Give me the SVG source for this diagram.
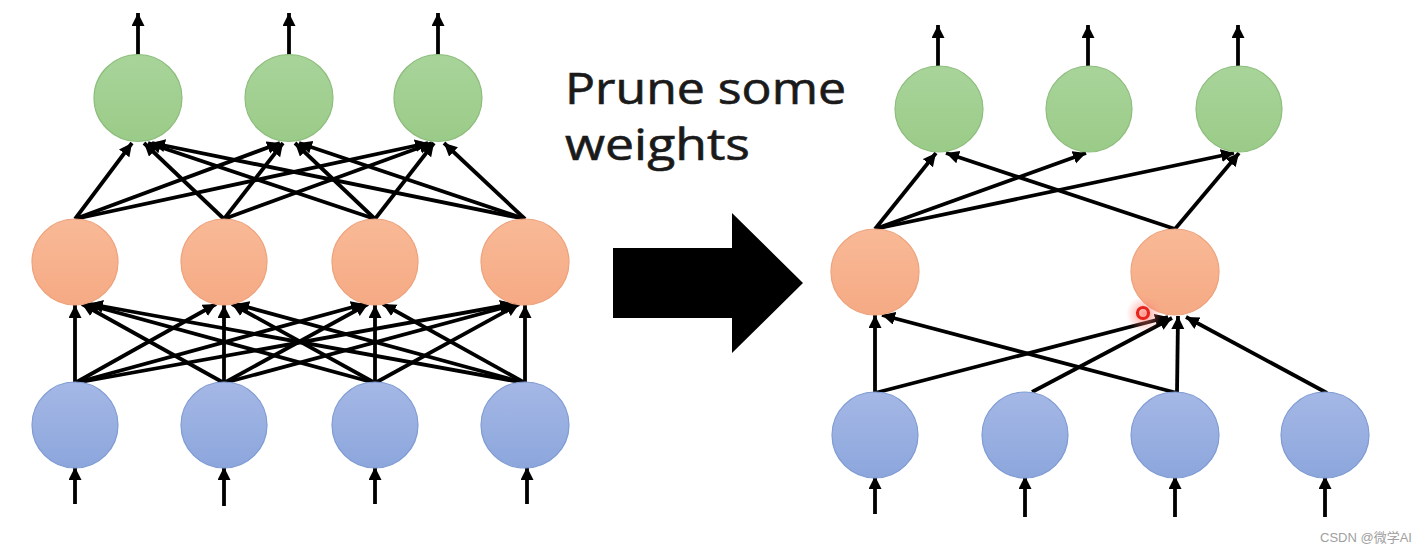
<svg xmlns="http://www.w3.org/2000/svg" width="1425" height="554" viewBox="0 0 1425 554">
<style>
.e{stroke:#000;stroke-width:3.8;fill:none;marker-end:url(#ah)}
.g{fill:url(#gg);stroke:#8dbd7c;stroke-width:1.2}
.o{fill:url(#go);stroke:#eda27c;stroke-width:1.2}
.b{fill:url(#gb);stroke:#7f9bd3;stroke-width:1.2}
.t{font-family:"Open Sans","Noto Sans","Liberation Sans",sans-serif;font-size:43px;fill:#1a1a1a;stroke:#1a1a1a;stroke-width:0.6}
</style>
<defs>
<marker id="ah" markerUnits="userSpaceOnUse" markerWidth="16" markerHeight="14" refX="13" refY="6.5" orient="auto"><path d="M0,0 L13,6.5 L0,13 Z" fill="#000"/></marker>
<linearGradient id="gg" x1="0" y1="0" x2="0" y2="1"><stop offset="0" stop-color="#a8d49a"/><stop offset="1" stop-color="#9bcb88"/></linearGradient>
<linearGradient id="go" x1="0" y1="0" x2="0" y2="1"><stop offset="0" stop-color="#f9b996"/><stop offset="1" stop-color="#f5aa84"/></linearGradient>
<linearGradient id="gb" x1="0" y1="0" x2="0" y2="1"><stop offset="0" stop-color="#a5b8e6"/><stop offset="1" stop-color="#8ca6dc"/></linearGradient>
<radialGradient id="glow"><stop offset="0" stop-color="#ff6a5a" stop-opacity="0.7"/><stop offset="1" stop-color="#ff8a80" stop-opacity="0"/></radialGradient>
</defs>
<rect width="1425" height="554" fill="#fff"/>

<g id="connectors">
<!-- left: outputs -->
<line class="e" x1="138" y1="55" x2="138" y2="13"/>
<line class="e" x1="289" y1="55" x2="289" y2="13"/>
<line class="e" x1="438" y1="55" x2="438" y2="13"/>
<!-- left: orange -> green -->
<line class="e" x1="75" y1="219" x2="132" y2="143"/>
<line class="e" x1="75" y1="219" x2="280" y2="143"/>
<line class="e" x1="75" y1="219" x2="428" y2="143"/>
<line class="e" x1="224" y1="219" x2="144" y2="143"/>
<line class="e" x1="224" y1="219" x2="283" y2="143"/>
<line class="e" x1="224" y1="219" x2="432" y2="143"/>
<line class="e" x1="375" y1="219" x2="148" y2="143"/>
<line class="e" x1="375" y1="219" x2="295" y2="143"/>
<line class="e" x1="375" y1="219" x2="434" y2="143"/>
<line class="e" x1="525" y1="219" x2="152" y2="143"/>
<line class="e" x1="525" y1="219" x2="299" y2="143"/>
<line class="e" x1="525" y1="219" x2="444" y2="143"/>
<!-- left: blue -> orange -->
<line class="e" x1="75" y1="383" x2="75" y2="305"/>
<line class="e" x1="75" y1="383" x2="216" y2="304"/>
<line class="e" x1="75" y1="383" x2="364" y2="304"/>
<line class="e" x1="75" y1="383" x2="513" y2="304"/>
<line class="e" x1="224" y1="383" x2="82" y2="304"/>
<line class="e" x1="224" y1="383" x2="224" y2="305"/>
<line class="e" x1="224" y1="383" x2="368" y2="304"/>
<line class="e" x1="224" y1="383" x2="517" y2="304"/>
<line class="e" x1="375" y1="383" x2="86" y2="304"/>
<line class="e" x1="375" y1="383" x2="232" y2="304"/>
<line class="e" x1="375" y1="383" x2="375" y2="305"/>
<line class="e" x1="375" y1="383" x2="519" y2="304"/>
<line class="e" x1="525" y1="383" x2="90" y2="304"/>
<line class="e" x1="525" y1="383" x2="236" y2="304"/>
<line class="e" x1="525" y1="383" x2="383" y2="304"/>
<line class="e" x1="525" y1="383" x2="525" y2="305"/>
<!-- left: inputs -->
<line class="e" x1="75" y1="504" x2="75" y2="467"/>
<line class="e" x1="224" y1="506" x2="224" y2="467"/>
<line class="e" x1="375" y1="504" x2="375" y2="467"/>
<line class="e" x1="527" y1="504" x2="527" y2="467"/>

<!-- right: outputs -->
<line class="e" x1="938" y1="66" x2="938" y2="25"/>
<line class="e" x1="1088" y1="66" x2="1088" y2="25"/>
<line class="e" x1="1238" y1="66" x2="1238" y2="25"/>
<!-- right: orange -> green -->
<line class="e" x1="875" y1="229" x2="936" y2="153"/>
<line class="e" x1="875" y1="229" x2="1086" y2="153"/>
<line class="e" x1="875" y1="229" x2="1234" y2="153"/>
<line class="e" x1="1175" y1="229" x2="946" y2="153"/>
<line class="e" x1="1175" y1="229" x2="1239" y2="153"/>
<!-- right: blue -> orange -->
<line class="e" x1="875" y1="393" x2="875" y2="315"/>
<line class="e" x1="875" y1="393" x2="1168" y2="317"/>
<line class="e" x1="1032" y1="392" x2="1172" y2="318"/>
<line class="e" x1="1177" y1="393" x2="882" y2="315"/>
<line class="e" x1="1177" y1="393" x2="1178" y2="316"/>
<line class="e" x1="1327" y1="393" x2="1186" y2="317"/>
<!-- right: inputs -->
<line class="e" x1="875" y1="514" x2="875" y2="476"/>
<line class="e" x1="1025" y1="517" x2="1025" y2="476"/>
<line class="e" x1="1175" y1="517" x2="1175" y2="476"/>
<line class="e" x1="1325" y1="517" x2="1325" y2="476"/>
</g>

<g id="left-green1"><ellipse class="g" cx="138" cy="98" rx="44" ry="43.5"/></g>
<g id="left-green2"><ellipse class="g" cx="289" cy="98" rx="44" ry="43.5"/></g>
<g id="left-green3"><ellipse class="g" cx="438" cy="98" rx="44" ry="43.5"/></g>
<g id="left-orange1"><ellipse class="o" cx="75" cy="262" rx="43" ry="43"/></g>
<g id="left-orange2"><ellipse class="o" cx="224" cy="262" rx="43" ry="43"/></g>
<g id="left-orange3"><ellipse class="o" cx="375" cy="262" rx="43" ry="43"/></g>
<g id="left-orange4"><ellipse class="o" cx="525" cy="262" rx="44" ry="43"/></g>
<g id="left-blue1"><ellipse class="b" cx="75" cy="425" rx="43" ry="43"/></g>
<g id="left-blue2"><ellipse class="b" cx="224" cy="425" rx="43" ry="43"/></g>
<g id="left-blue3"><ellipse class="b" cx="375" cy="425" rx="43" ry="43"/></g>
<g id="left-blue4"><ellipse class="b" cx="525" cy="425" rx="44" ry="43"/></g>

<g id="label">
<text class="t" x="565" y="104" textLength="281" lengthAdjust="spacingAndGlyphs">Prune some</text>
<text class="t" x="565" y="160" textLength="185" lengthAdjust="spacingAndGlyphs">weights</text>
</g>
<g id="big-arrow"><path d="M613,248 L732,248 L732,213 L803,283 L732,353 L732,318 L613,318 Z" fill="#000"/></g>

<g id="right-green1"><ellipse class="g" cx="939" cy="109" rx="44" ry="43"/></g>
<g id="right-green2"><ellipse class="g" cx="1089" cy="109" rx="43" ry="43"/></g>
<g id="right-green3"><ellipse class="g" cx="1239" cy="109" rx="43" ry="43"/></g>
<g id="right-orange1"><ellipse class="o" cx="875" cy="272" rx="44" ry="43"/></g>
<g id="right-orange2"><ellipse class="o" cx="1175" cy="272" rx="44" ry="43"/></g>
<g id="right-blue1"><ellipse class="b" cx="875" cy="435" rx="43" ry="43"/></g>
<g id="right-blue2"><ellipse class="b" cx="1025" cy="435" rx="43" ry="43"/></g>
<g id="right-blue3"><ellipse class="b" cx="1175" cy="435" rx="44" ry="43"/></g>
<g id="right-blue4"><ellipse class="b" cx="1325" cy="435" rx="44" ry="43"/></g>

<g id="pointer">
<circle cx="1144" cy="314" r="18" fill="url(#glow)"/>
<circle cx="1143" cy="313" r="5.5" fill="none" stroke="#e8231b" stroke-width="3.2"/>
</g>
<text x="1320" y="542" font-family="'Liberation Sans','Noto Sans CJK SC',sans-serif" font-size="13" fill="#a0a0a0">CSDN @微学AI</text>
</svg>
